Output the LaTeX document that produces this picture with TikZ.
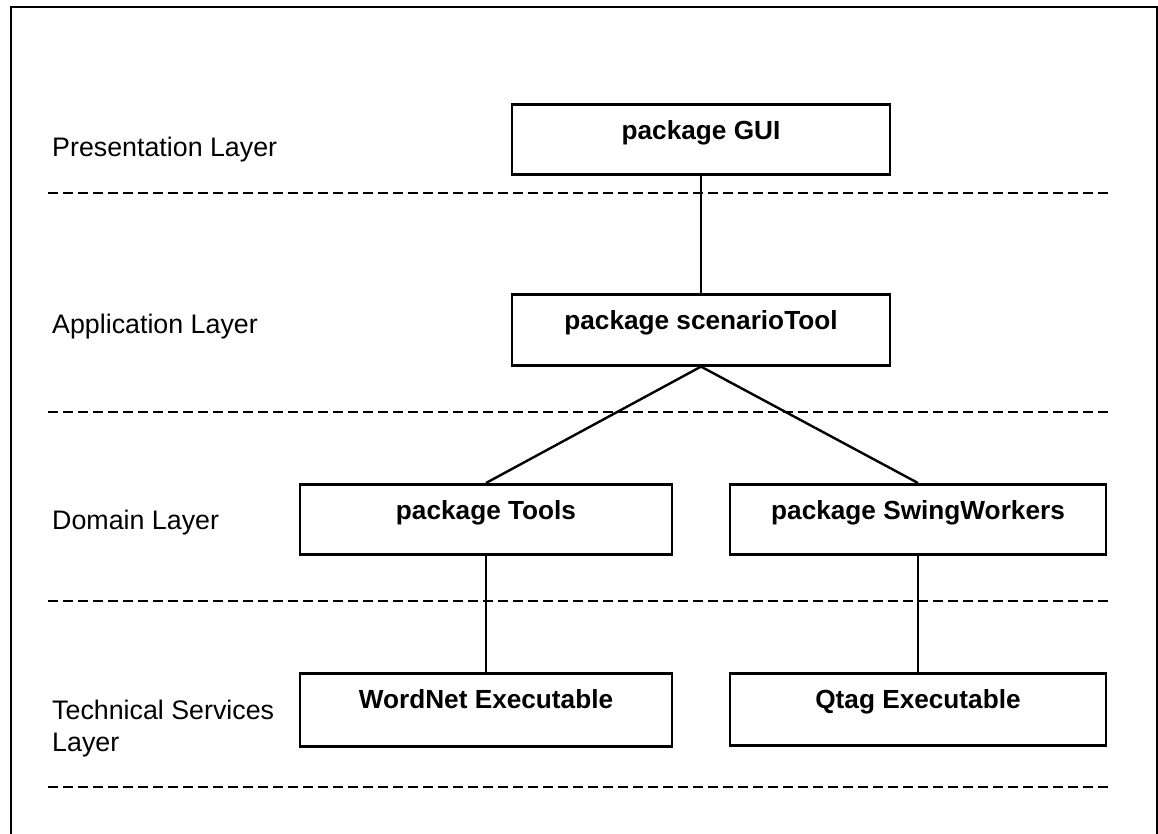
\documentclass[tikz,border=0pt]{standalone}
\usepackage{fontspec}
\setmainfont{Liberation Sans}
\begin{document}
\begin{tikzpicture}[x=1pt,y=-1pt,
  pkg/.style={draw, line width=2.6pt, inner xsep=0pt, inner ysep=0pt, anchor=north,
     font=\fontsize{26.2}{30}\selectfont\bfseries, text height=35pt},
  layerlbl/.style={anchor=west, inner sep=0pt, align=left, font=\fontsize{26.8}{32}\selectfont},
  sep/.style={line width=2.6pt, dash pattern=on 10pt off 5pt},
  conn/.style={line width=2.4pt}]
\useasboundingbox (0,0) rectangle (1158,833);
\draw[line width=2.4pt] (11,845) -- (11,7) -- (1157,7) -- (1157,845);
% layer separators
\foreach \yy in {193,412,601,787} \draw[sep] (48,\yy) -- (1112,\yy);
% layer labels
\node[layerlbl] (lp) at (52,150) {Presentation Layer};
\node[layerlbl] (la) at (52,327) {Application Layer};
\node[layerlbl] (ld) at (52,523) {Domain Layer};
\node[layerlbl] (lt) at (52,729) {Technical Services\\Layer};
% packages
\node[pkg, minimum width=378pt, text depth=35pt] (gui) at (701,103) {package GUI};
\node[pkg, minimum width=378pt, text depth=36pt] (scen) at (701,293) {package scenarioTool};
\node[pkg, minimum width=372pt, text depth=35pt] (tools) at (486,483) {package Tools};
\node[pkg, minimum width=376pt, text depth=35pt] (sw) at (918,483) {package SwingWorkers};
\node[pkg, minimum width=372pt, text depth=38pt] (wn) at (486,672) {WordNet Executable};
\node[pkg, minimum width=376pt, text depth=37pt] (qt) at (918,672) {Qtag Executable};
% connectors
\draw[conn] (gui.south) -- (scen.north);
\draw[conn] (scen.south) -- (tools.north);
\draw[conn] (scen.south) -- (sw.north);
\draw[conn] (tools.south) -- (wn.north);
\draw[conn] (sw.south) -- (qt.north);
\end{tikzpicture}
\end{document}
